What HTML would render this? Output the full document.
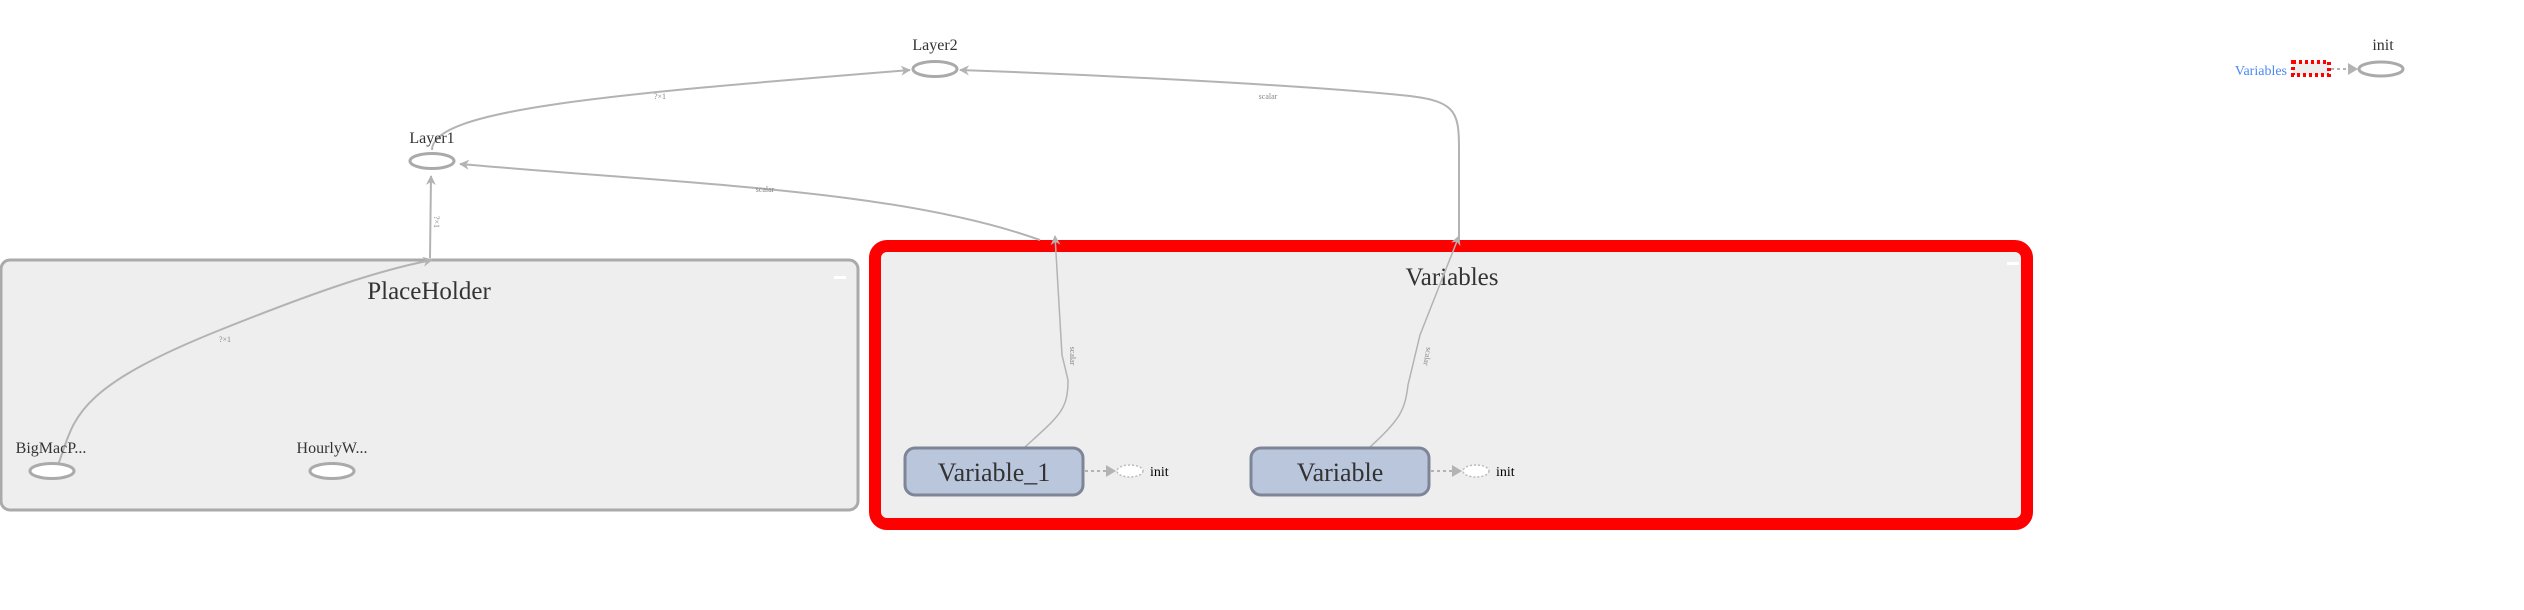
<!DOCTYPE html>
<html><head><meta charset="utf-8"><style>html,body{margin:0;padding:0;background:#fff;}svg{display:block;}</style></head>
<body>
<svg width="2524" height="610" viewBox="0 0 2524 610" xmlns="http://www.w3.org/2000/svg" font-family="Liberation Serif, serif">
<defs>
<marker id="ar" markerWidth="10" markerHeight="10" refX="9" refY="5" orient="auto" markerUnits="userSpaceOnUse">
<path d="M0,0 L10,5 L0,10 L3,5 z" fill="#b3b3b3"/></marker>
</defs>
<!-- PlaceHolder box -->
<rect x="1" y="260" width="857" height="250" rx="9" fill="#eeeeee" stroke="#aaaaaa" stroke-width="3"/>
<rect x="834" y="276" width="12" height="3" fill="#fff"/>
<text x="429" y="299" font-size="25" text-anchor="middle" fill="#333">PlaceHolder</text>
<!-- Variables box -->
<rect x="875" y="246" width="1152" height="278" rx="12" fill="#eeeeee" stroke="#ff0000" stroke-width="12"/>
<rect x="2007" y="262" width="12" height="3" fill="#fff"/>
<text x="1452" y="285" font-size="25" text-anchor="middle" fill="#333">Variables</text>

<!-- edges -->
<g fill="none" stroke="#b3b3b3" stroke-width="2">
<path d="M432,150 C432,110 600,95 910,70" marker-end="url(#ar)"/>
<path d="M1040,240 C900,190 700,185 460,164" marker-end="url(#ar)"/>
<path d="M1459,240 L1459,148 C1459,110 1455,100 1400,95 C1300,85 1100,75 960,70" marker-end="url(#ar)"/>
<path d="M430,258 L431,176" marker-end="url(#ar)"/>
<path d="M58,465 C75,420 70,390 220,330 C320,290 380,270 432,260" marker-end="url(#ar)"/>
</g>
<g fill="none" stroke="#b3b3b3" stroke-width="1.5">
<path d="M1025,447 C1060,415 1068,410 1068,380 L1062,355 L1055,236" marker-end="url(#ar)"/>
<path d="M1370,447 C1400,420 1405,410 1408,385 L1420,335 L1459,236" marker-end="url(#ar)"/>
</g>
<g font-size="8" fill="#888">
<text x="660" y="99" text-anchor="middle">?×1</text>
<text x="765" y="192" text-anchor="middle">scalar</text>
<text x="1268" y="99" text-anchor="middle">scalar</text>
<text x="225" y="342" text-anchor="middle">?×1</text>
<text x="434" y="222" text-anchor="middle" transform="rotate(90 434 222)">?×1</text>
<text x="1070" y="356" text-anchor="middle" transform="rotate(90 1070 356)">scalar</text>
<text x="1425" y="356" text-anchor="middle" transform="rotate(100 1425 356)">scalar</text>
</g>

<!-- nodes -->
<g fill="#fff" stroke="#aaaaaa" stroke-width="3">
<ellipse cx="935" cy="69" rx="22" ry="7.5"/>
<ellipse cx="432" cy="161" rx="22" ry="7.5"/>
<ellipse cx="52" cy="471" rx="22" ry="7.5"/>
<ellipse cx="332" cy="471" rx="22" ry="7.5"/>
<ellipse cx="2381" cy="69" rx="22" ry="7"/>
</g>
<g font-size="16" fill="#333" text-anchor="middle">
<text x="935" y="50">Layer2</text>
<text x="432" y="143">Layer1</text>
<text x="51" y="453">BigMacP...</text>
<text x="332" y="453">HourlyW...</text>
<text x="2383" y="50">init</text>
</g>

<!-- Variable nodes -->
<rect x="905" y="448" width="178" height="47" rx="10" fill="#b9c6dc" stroke="#7d8597" stroke-width="3"/>
<text x="994" y="481" font-size="26" text-anchor="middle" fill="#333">Variable_1</text>
<rect x="1251" y="448" width="178" height="47" rx="10" fill="#b9c6dc" stroke="#7d8597" stroke-width="3"/>
<text x="1340" y="481" font-size="26" text-anchor="middle" fill="#333">Variable</text>

<g stroke="#b3b3b3" stroke-width="2" stroke-dasharray="3,3" fill="none">
<line x1="1085" y1="471" x2="1106" y2="471"/>
<line x1="1431" y1="471" x2="1452" y2="471"/>
<line x1="2331" y1="69" x2="2348" y2="69"/>
</g>
<g fill="#b3b3b3">
<path d="M1106,465 L1116,471 L1106,477z"/>
<path d="M1452,465 L1462,471 L1452,477z"/>
<path d="M2348,63 L2358,69 L2348,75z"/>
</g>
<g fill="#fff" stroke="#bbb" stroke-width="1.5" stroke-dasharray="2,2">
<ellipse cx="1130" cy="471" rx="13" ry="6"/>
<ellipse cx="1476" cy="471" rx="13" ry="6"/>
</g>
<g font-size="14" fill="#000">
<text x="1150" y="476">init</text>
<text x="1496" y="476">init</text>
</g>

<!-- top right -->
<text x="2287" y="75" font-size="14" fill="#4a8af4" text-anchor="end">Variables</text>
<rect x="2293" y="62" width="36" height="13" fill="#eee" stroke="#ff0000" stroke-width="4" stroke-dasharray="3,3"/>
</svg>
</body></html>
